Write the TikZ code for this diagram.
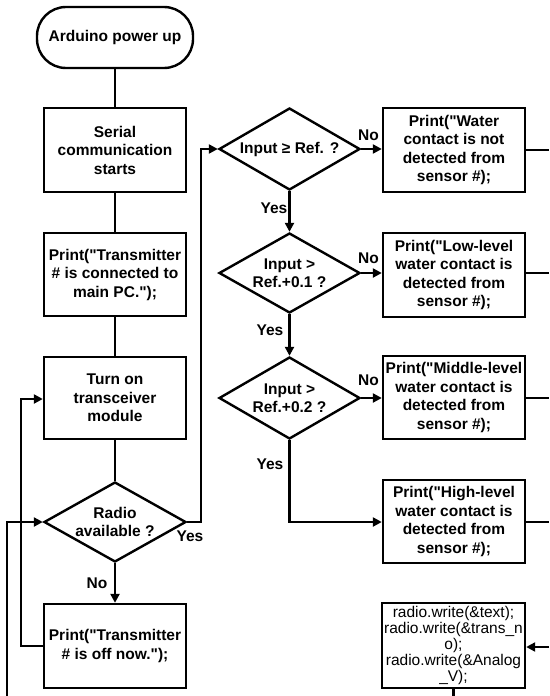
\documentclass[tikz,border=0pt]{standalone}
\usepackage{fontspec}
\setmainfont{Liberation Sans}
\usetikzlibrary{arrows.meta,shapes.geometric}
\newcommand{\dq}{\textquotedbl}
\tikzset{
  txt/.style={font=\bfseries\fontsize{15.5}{18.5}\selectfont, align=center},
  box/.style={txt, draw, line width=2.4pt, minimum width=142pt, minimum height=84pt, inner sep=0pt},
  term/.style={txt, draw, line width=2.4pt, minimum width=156pt, minimum height=61pt, rounded corners=29pt, inner sep=0pt},
  dia/.style={draw, shape=diamond, line width=2.4pt, inner sep=0pt, minimum width=141pt, minimum height=82pt},
  lbl/.style={txt, inner sep=0pt},
  link/.style={line width=2.4pt},
  arr/.style={link, -{Triangle[length=9pt,width=9pt]}},
}
\begin{document}
\begin{tikzpicture}[x=1pt,y=-1pt]
\useasboundingbox (0,0) rectangle (549,696);
% left column
\node[term] (start) at (115,37.5) {Arduino power up};
\node[box] (serial) at (115,150) {Serial\\communication\\starts};
\node[box, minimum height=83pt] (conn) at (115,274.5) {Print(\dq Transmitter\\\# is connected to\\main PC.\dq);};
\node[box, minimum height=82pt] (turnon) at (115,398) {Turn on\\transceiver\\module};
\node[dia, minimum width=142pt, minimum height=80pt, label={[lbl]center:Radio\\available ?}] (radio) at (115,522) {};
\node[box] (off) at (115,646) {Print(\dq Transmitter\\\# is off now.\dq);};
% right column
\node[dia, label={[lbl]center:Input ≥ Ref. ?}] (d1) at (289.5,149) {};
\node[dia, minimum height=80pt, label={[lbl]center:Input >\\Ref.+0.1 ?}] (d2) at (289.5,273) {};
\node[dia, label={[lbl]center:Input >\\Ref.+0.2 ?}] (d3) at (289.5,398) {};
\node[box] (b1) at (454,150) {Print(\dq Water\\contact is not\\detected from\\sensor \#);};
\node[box] (b2) at (454,275) {Print(\dq Low-level\\water contact is\\detected from\\sensor \#);};
\node[box, minimum height=83pt] (b3) at (454,397.5) {Print(\dq Middle-level\\water contact is\\detected from\\sensor \#);};
\node[box, minimum height=83pt] (b4) at (454,521.5) {Print(\dq High-level\\water contact is\\detected from\\sensor \#);};
\node[box, minimum width=143pt, minimum height=85pt, font=\fontsize{15.5}{16.2}\selectfont] (b5) at (453.5,645.5)
  {radio.write(\&text);\\radio.write(\&trans\_n\\o);\\radio.write(\&Analog\\\_V);};
% free ends
\coordinate (inL) at (7,696);
\coordinate (e1) at (549,150);
\coordinate (e2) at (549,273);
\coordinate (e3) at (549,398);
\coordinate (e4) at (549,522);
\coordinate (e5) at (549,647);
\coordinate (bot5) at (453.5,696);
% connectors
\draw[link] (start) -- (serial);
\draw[link] (serial) -- (conn);
\draw[link] (conn) -- (turnon);
\draw[link] (turnon) -- (radio.north);
\draw[arr] (radio.south) -- (off.north);
\draw[arr] (off.west) -- (21,646) -- (21,399) -- (turnon.west |- 0,399);
\draw[arr] (inL) -- (7,522) -- (radio.west);
\draw[arr] (radio.east) -- (201,522) -- (201,149) -- (d1.west);
\draw[arr] (d1.east) -- (b1.west |- d1.east);
\draw[arr] (d1.south) -- (d2.north);
\draw[arr] (d2.east) -- (b2.west |- d2.east);
\draw[arr] (d2.south) -- (d3.north);
\draw[arr] (d3.east) -- (b3.west |- d3.east);
\draw[arr] (d3.south) -- (289.5,522) -- (b4.west |- 0,522);
\draw[link] (b1.east |- e1) -- (e1);
\draw[link] (b2.east |- e2) -- (e2);
\draw[link] (b3.east |- e3) -- (e3);
\draw[link] (b4.east |- e4) -- (e4);
\draw[arr] (e5) -- (b5.east |- e5);
\draw[link] (b5.south) -- (bot5);
% labels
\node[lbl] (lNo0) at (97,583) {No};
\node[lbl] (lYes0) at (190,536) {Yes};
\node[lbl] (lNo1) at (368.5,135) {No};
\node[lbl] (lYes1) at (274,208) {Yes};
\node[lbl] (lNo2) at (368.5,258) {No};
\node[lbl] (lYes2) at (270,330) {Yes};
\node[lbl] (lNo3) at (368.5,380) {No};
\node[lbl] (lYes3) at (270,464) {Yes};
\end{tikzpicture}
\end{document}
